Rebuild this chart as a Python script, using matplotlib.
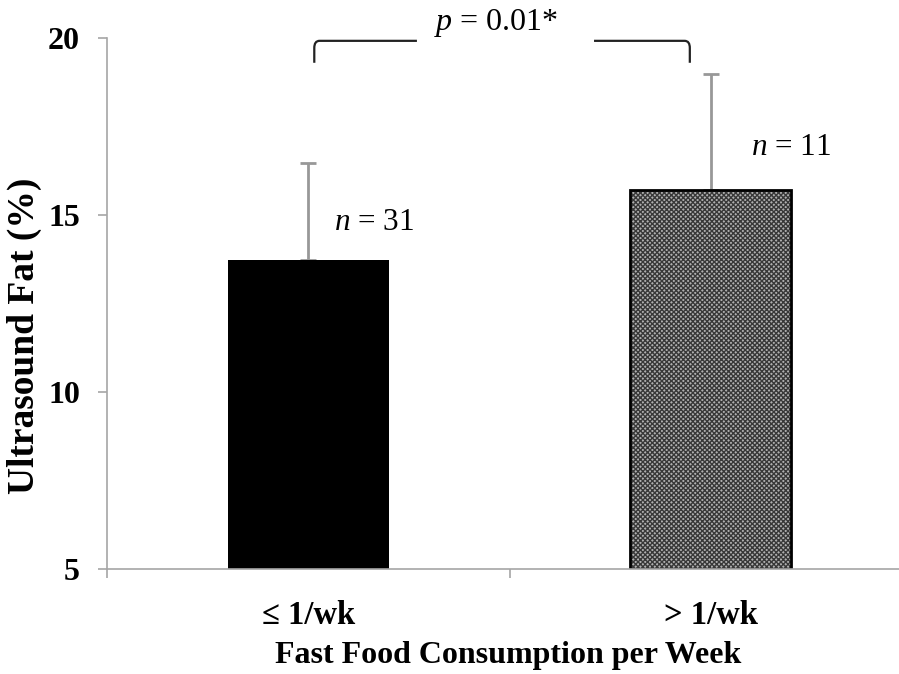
import matplotlib
matplotlib.use("Agg")
import matplotlib.pyplot as plt
from matplotlib.path import Path
from matplotlib.patches import PathPatch

# ---- data ----
categories = ["≤ 1/wk", "> 1/wk"]
means = [13.74, 15.72]
errors = [2.74, 3.25]
n_labels = ["31", "11"]
p_text = "0.01*"
y_ticks = [5, 10, 15, 20]
x_label = "Fast Food Consumption per Week"
y_label = "Ultrasound Fat (%)"

plt.rcParams['font.family'] = ['Liberation Serif', 'DejaVu Serif']
plt.rcParams['mathtext.fontset'] = 'custom'
plt.rcParams['mathtext.rm'] = 'Liberation Serif'
plt.rcParams['mathtext.it'] = 'Liberation Serif:italic'
plt.rcParams['hatch.linewidth'] = 1.0

fig = plt.figure(figsize=(8.99, 6.74), dpi=100)
ax = fig.add_axes([107 / 899, 1 - 569 / 674, (912 - 107) / 899, (569 - 38) / 674])

x = list(range(len(categories)))
width = 0.4
axis_gray = '#a6a6a6'
err_gray = '#989898'

# bar 1: solid black
ax.bar(x[0], means[0] - y_ticks[0], bottom=y_ticks[0], width=width,
       color='black', edgecolor='black', linewidth=0, zorder=2)
# bar 2: fine checker pattern
ax.bar(x[1], means[1] - y_ticks[0], bottom=y_ticks[0], width=width,
       color='#b0b0b0', edgecolor='#383838', hatch='xxxxxxx', linewidth=0, zorder=2)
ax.bar(x[1], means[1] - y_ticks[0], bottom=y_ticks[0], width=width,
       fill=False, edgecolor='black', linewidth=2, zorder=3)

ax.errorbar(x, means, yerr=[[0, 0], errors], fmt='none', ecolor=err_gray,
            elinewidth=2, capsize=6, capthick=2, zorder=1)

ax.set_xlim(-0.5, 1.5)
ax.set_ylim(y_ticks[0], y_ticks[-1])
ax.set_yticks(y_ticks)
ax.set_yticklabels([str(t) for t in y_ticks], fontsize=23, fontweight='bold')
ax.tick_params(axis='y', direction='out', length=6.5, width=1.2, color=axis_gray, pad=13)

ax.set_xticks([-0.5, 0.5, 1.5])
ax.set_xticklabels([])
ax.tick_params(axis='x', which='major', direction='out', length=6.5, width=1.2, color=axis_gray)
ax.set_xticks(x, minor=True)
ax.set_xticklabels(categories, minor=True, fontsize=23.5, fontweight='bold')
ax.tick_params(axis='x', which='minor', length=0, pad=22)

for s in ['top', 'right']:
    ax.spines[s].set_visible(False)
for s in ['left', 'bottom']:
    ax.spines[s].set_color(axis_gray)
    ax.spines[s].set_linewidth(1.2)
ax.spines['bottom'].set_zorder(4)

# n labels
ax.text(x[0] + 0.164, 14.78, r"$n$ = " + n_labels[0], fontsize=22.5, ha='center', va='center')
ax.text(x[1] + 0.199, 16.9, r"$n$ = " + n_labels[1], fontsize=22.5, ha='center', va='center')

# significance bracket
xl, xr = x[0] + 0.015, x[1] - 0.052
ylo, yhi = 19.3, 19.92
rx, ry = 0.013, 0.2
verts = [(xl, ylo), (xl, yhi - ry), (xl, yhi), (xl + rx, yhi), (0.27, yhi)]
codes = [Path.MOVETO, Path.LINETO, Path.CURVE3, Path.CURVE3, Path.LINETO]
ax.add_patch(PathPatch(Path(verts, codes), fill=False, edgecolor='#222222', lw=1.6, clip_on=False))
verts = [(0.71, yhi), (xr - rx, yhi), (xr, yhi), (xr, yhi - ry), (xr, ylo)]
codes = [Path.MOVETO, Path.LINETO, Path.CURVE3, Path.CURVE3, Path.LINETO]
ax.add_patch(PathPatch(Path(verts, codes), fill=False, edgecolor='#222222', lw=1.6, clip_on=False))
ax.text(0.468, 20.42, r"$p$ = " + p_text, fontsize=23, ha='center', va='center', clip_on=False)

fig.text(508 / 899, 1 - 655 / 674, x_label, fontsize=23, fontweight='bold', ha='center', va='center')
fig.text(24 / 899, 1 - 336 / 674, y_label, fontsize=27, fontweight='bold', ha='center', va='center',
         rotation=90)

fig.savefig("out.png", dpi=100)
